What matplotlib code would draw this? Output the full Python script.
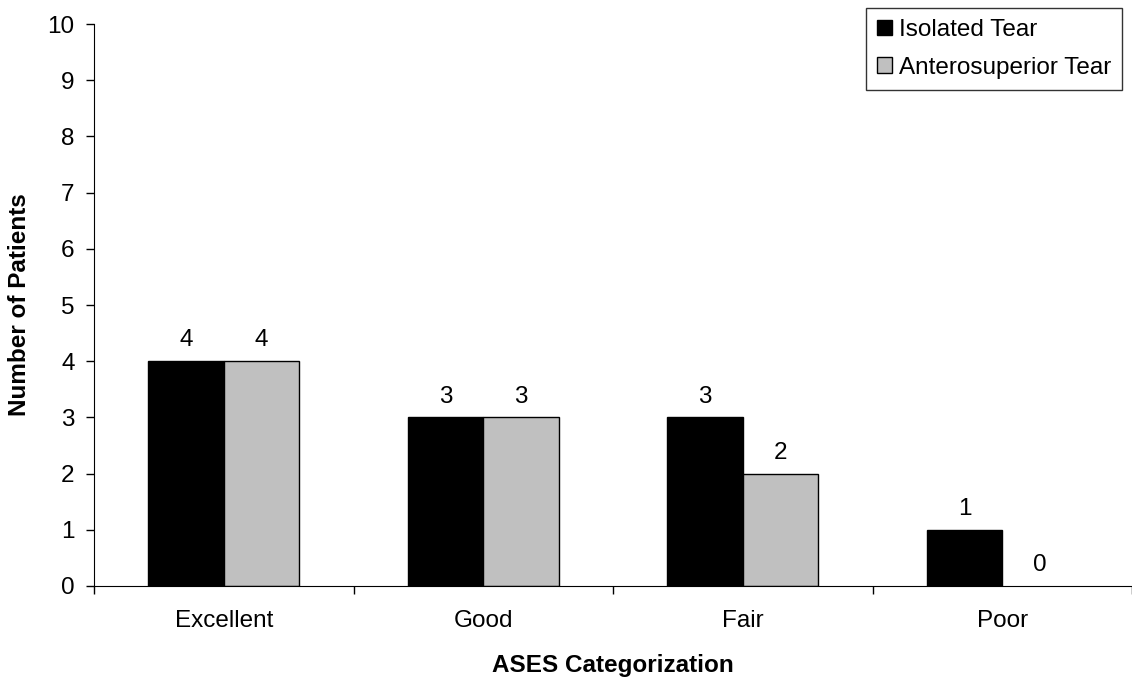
import matplotlib.pyplot as plt
import numpy as np

plt.rcParams['font.family'] = ['Liberation Sans', 'DejaVu Sans']

# Daten
categories = ["Excellent", "Good", "Fair", "Poor"]
isolated = [4, 3, 3, 1]
anterosuperior = [4, 3, 2, 0]

FS = 17.5


def demo():
    fig = plt.figure(figsize=(11.32, 6.79), dpi=100)
    ax = fig.add_axes([94 / 1132, 1 - 586 / 679, 1 - 94 / 1132, (586 - 24) / 679])

    x = np.arange(len(categories))
    w = 0.29
    b1 = ax.bar(x - w / 2, isolated, w, color="black", edgecolor="black",
                linewidth=1, label="Isolated Tear")
    b2 = ax.bar(x + w / 2, anterosuperior, w, color="#c0c0c0", edgecolor="black",
                linewidth=1, label="Anterosuperior Tear")

    # Werte über den Balken
    for bars in (b1, b2):
        for r in bars:
            h = r.get_height()
            if h == 0:
                r.set_linewidth(0)
            ax.text(r.get_x() + r.get_width() / 2, h + 0.37, str(int(h)),
                    ha="center", va="center", fontsize=FS)

    ax.set_xlim(-0.5, len(categories) - 0.5)
    ax.set_ylim(0, 10)
    ax.set_yticks(range(0, 11))
    ax.tick_params(axis="y", labelsize=FS, direction="out", length=6, width=1, pad=8)

    # Kategorien-Beschriftung mittig, Striche zwischen den Kategorien
    ax.set_xticks(np.arange(-0.5, len(categories), 1.0))
    ax.set_xticklabels([])
    ax.set_xticks(x, minor=True)
    ax.set_xticklabels(categories, minor=True, fontsize=FS)
    ax.tick_params(axis="x", which="major", direction="out", length=6, width=1)
    ax.tick_params(axis="x", which="minor", length=0, pad=17)

    ax.spines["top"].set_visible(False)
    ax.spines["right"].set_visible(False)

    ax.set_xlabel("ASES Categorization", fontsize=FS, fontweight="bold", labelpad=16)
    ax.set_ylabel("Number of Patients", fontsize=FS, fontweight="bold", labelpad=12)

    leg = ax.legend(loc="upper right", bbox_to_anchor=(1122 / 1132, 1 - 8 / 679),
                    bbox_transform=fig.transFigure, fontsize=FS,
                    frameon=True, fancybox=False, edgecolor="black",
                    handlelength=0.6, handleheight=0.6, handletextpad=0.3,
                    borderpad=0.45, labelspacing=0.65, borderaxespad=0)
    leg.get_frame().set_linewidth(1)

    fig.savefig("out.png", dpi=100)


if __name__ == "__main__":
    demo()
